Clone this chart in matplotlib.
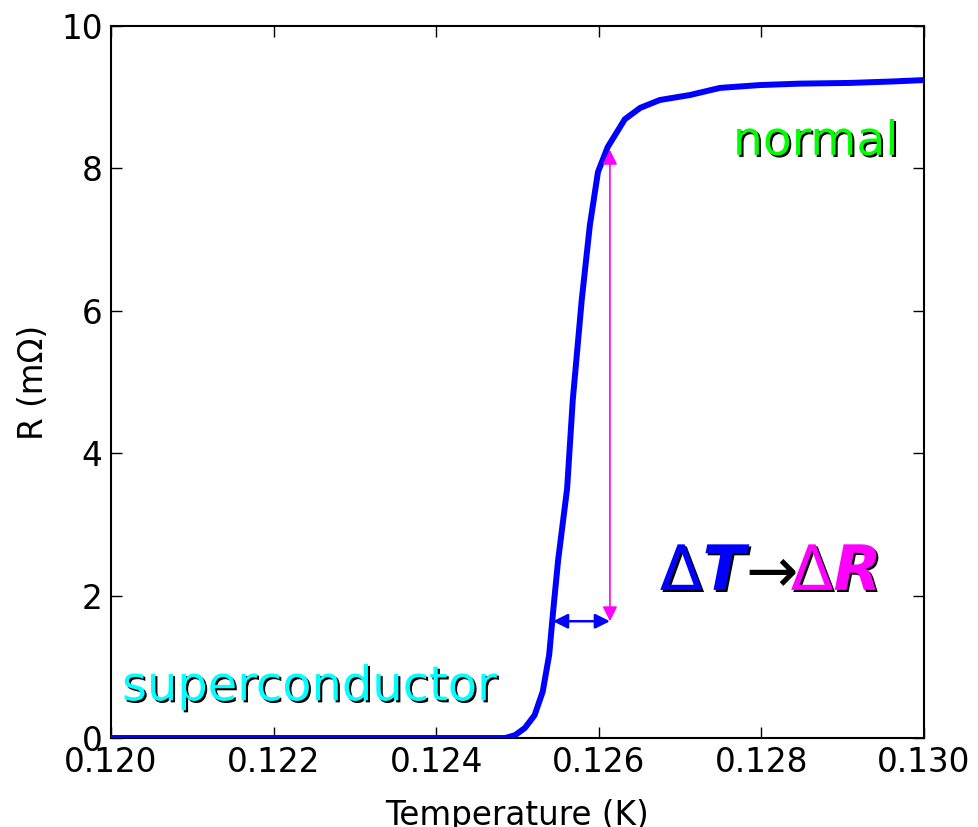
import matplotlib
matplotlib.use("Agg")
import matplotlib.pyplot as plt
import matplotlib.patheffects as pe
import numpy as np

# temperature (K) and resistance (mOhm)
temp = [0.1200, 0.1240, 0.12485, 0.12497, 0.12509, 0.12521, 0.12531, 0.12539,
        0.12544, 0.12550, 0.12561, 0.12568, 0.12579, 0.12589, 0.12599, 0.12611,
        0.12632, 0.12651, 0.12675, 0.12712, 0.12749, 0.12798, 0.12847, 0.12909,
        0.12960, 0.1300]
res = [0.0, 0.0, 0.0, 0.04, 0.14, 0.32, 0.65, 1.17,
       1.80, 2.50, 3.50, 4.75, 6.15, 7.20, 7.95, 8.30,
       8.69, 8.85, 8.96, 9.03, 9.13, 9.17, 9.19, 9.20,
       9.22, 9.24]

# delta-T / delta-R arrows
dT_start, dT_end, dT_level = 0.125437, 0.126137, 1.64
dR_start, dR_end = 1.64, 8.26

fig = plt.figure(figsize=(9.79, 8.27), dpi=100)
ax = fig.add_axes([0.1134, 0.1076, 0.8304, 0.861])

ax.plot(temp, res, color='blue', lw=4.3, solid_joinstyle='miter', zorder=3)

ax.annotate('', xy=(dT_end, dT_level), xytext=(dT_start, dT_level),
            arrowprops=dict(arrowstyle='<|-|>', color='blue', lw=1.8,
                            mutation_scale=22, shrinkA=0, shrinkB=0), zorder=4)
ax.annotate('', xy=(dT_end, dR_end), xytext=(dT_end, dR_start),
            arrowprops=dict(arrowstyle='<|-|>', color='#ff00ff', lw=1.2,
                            mutation_scale=22, shrinkA=0, shrinkB=0), zorder=4)

shadow = [pe.withSimplePatchShadow(offset=(1.5, -1.5), shadow_rgbFace='k', alpha=1)]

ax.text(0.120135, 0.53, 'superconductor', color='cyan', fontsize=34.5,
        va='baseline', ha='left', path_effects=shadow)
ax.text(0.12765, 8.19, 'normal', color='#00ff00', fontsize=34,
        va='baseline', ha='left', path_effects=shadow)

# the delta T -> delta R label, built from pieces (text, colour, style, weight, shadow, shift px)
pieces = [('Δ', 'blue', 'normal', 'normal', True, 0),
          ('T', 'blue', 'italic', 'bold', True, 0),
          (r'$\rightarrow$', 'black', 'normal', 'normal', False, -12),
          ('Δ', '#ff00ff', 'normal', 'normal', True, -6),
          ('R', '#ff00ff', 'italic', 'bold', True, 0)]
prev = None
for s, c, st, w, sh, dx in pieces:
    kw = dict(color=c, fontsize=45, fontstyle=st, fontweight=w,
              path_effects=shadow if sh else None)
    if prev is None:
        prev = ax.text(0.12675, 2.08, s, va='baseline', ha='left', **kw)
    else:
        prev = ax.annotate(s, xy=(1, 0), xycoords=prev, xytext=(dx, 0),
                           textcoords='offset pixels', va='bottom', ha='left', **kw)

ax.set_xlim(0.120, 0.130)
ax.set_ylim(0, 10)
ax.set_xticks(np.arange(0.120, 0.1301, 0.002))
ax.set_xticklabels(['0.120', '0.122', '0.124', '0.126', '0.128', '0.130'])
ax.set_yticks([0, 2, 4, 6, 8, 10])
ax.tick_params(direction='in', top=True, right=True, length=8, width=1,
               labelsize=23.5, pad=6)
for sp in ax.spines.values():
    sp.set_linewidth(1.5)

ax.set_xlabel('Temperature (K)', fontsize=23.5, labelpad=14)
ax.set_ylabel('R (mΩ)', fontsize=23.5, labelpad=8)

fig.savefig('out.png', dpi=100)
